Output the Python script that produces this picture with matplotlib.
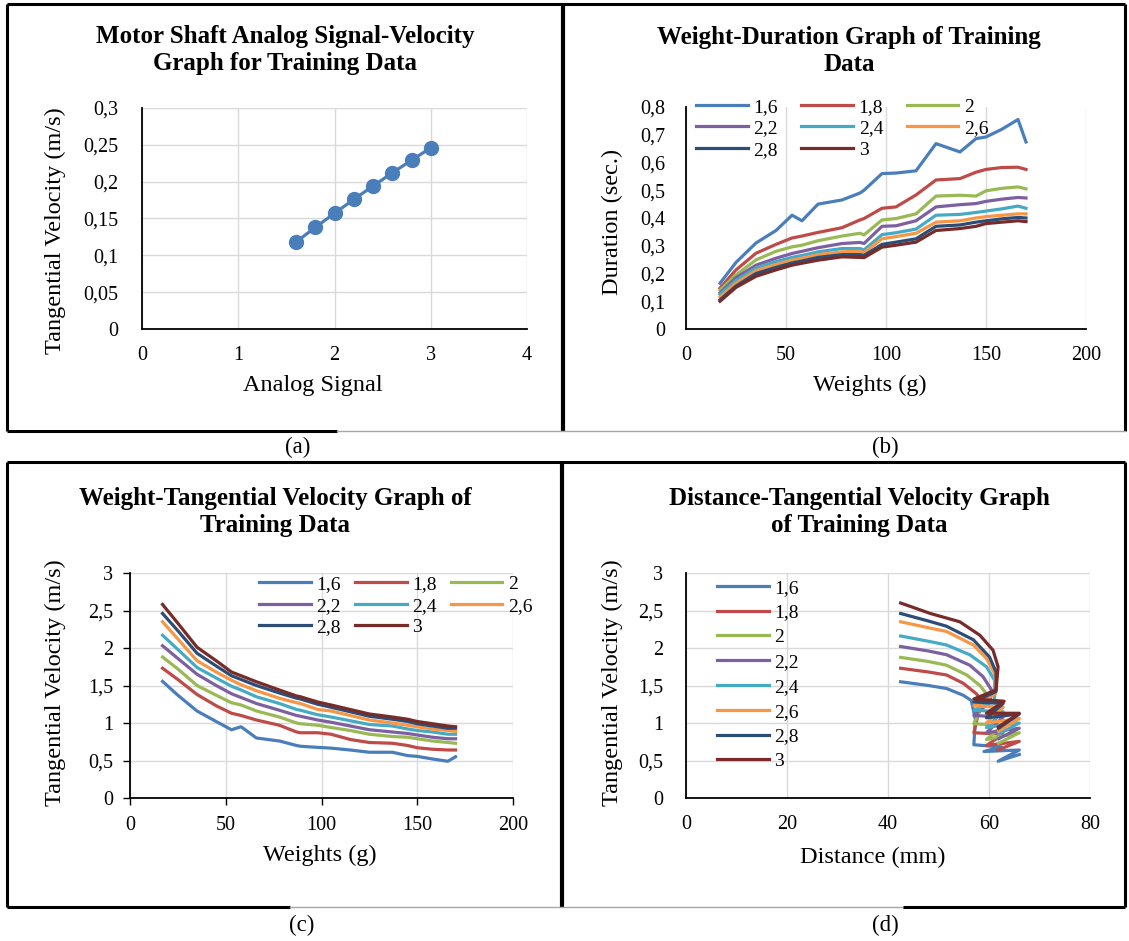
import matplotlib
matplotlib.use('Agg')
import matplotlib.pyplot as plt
from matplotlib.ticker import FuncFormatter, MultipleLocator

plt.rcParams['font.family'] = ['Liberation Serif', 'DejaVu Serif']

# ---- data -------------------------------------------------------------
signal = [1.6, 1.8, 2.0, 2.2, 2.4, 2.6, 2.8, 3.0]
signal_velocity = [0.118, 0.138, 0.157, 0.176, 0.194, 0.212, 0.229, 0.246]

series_labels = ['1,6', '1,8', '2', '2,2', '2,4', '2,6', '2,8', '3']
series_colors = ['#4A7EBB', '#BE4B48', '#98B954', '#7D60A0', '#46AAC5',
                 '#F79646', '#2C4D75', '#772C2A']

weights = [17, 25, 35, 45, 53, 58, 66, 78, 87, 89, 98, 105, 115, 125, 137,
           145, 150, 158, 166, 170]

dur_16 = [0.165, 0.24, 0.31, 0.355, 0.41, 0.39, 0.45, 0.465, 0.49, 0.50, 0.56,
          0.562, 0.57, 0.668, 0.638, 0.686, 0.692, 0.72, 0.755, 0.674]
dur_18 = [0.147, 0.213, 0.273, 0.305, 0.328, 0.335, 0.348, 0.365, 0.393, 0.398,
          0.435, 0.44, 0.483, 0.537, 0.542, 0.565, 0.575, 0.582, 0.583, 0.575]
dur_20 = [0.14, 0.195, 0.249, 0.28, 0.296, 0.302, 0.318, 0.335, 0.345, 0.339,
          0.393, 0.398, 0.415, 0.479, 0.482, 0.479, 0.498, 0.507, 0.512, 0.505]
dur_22 = [0.13, 0.185, 0.23, 0.255, 0.272, 0.28, 0.293, 0.308, 0.312, 0.308,
          0.37, 0.372, 0.39, 0.44, 0.448, 0.452, 0.46, 0.468, 0.474, 0.472]
dur_24 = [0.125, 0.175, 0.22, 0.243, 0.258, 0.265, 0.278, 0.29, 0.29, 0.285,
          0.34, 0.347, 0.36, 0.41, 0.413, 0.42, 0.425, 0.433, 0.443, 0.435]
dur_26 = [0.115, 0.165, 0.21, 0.232, 0.248, 0.255, 0.268, 0.278, 0.28, 0.275,
          0.325, 0.333, 0.345, 0.385, 0.39, 0.40, 0.405, 0.41, 0.415, 0.415]
dur_28 = [0.105, 0.155, 0.20, 0.222, 0.238, 0.245, 0.258, 0.268, 0.268, 0.265,
          0.305, 0.313, 0.325, 0.37, 0.375, 0.385, 0.39, 0.397, 0.402, 0.40]
dur_30 = [0.10, 0.15, 0.19, 0.213, 0.23, 0.237, 0.248, 0.26, 0.258, 0.257,
          0.295, 0.302, 0.313, 0.355, 0.362, 0.37, 0.38, 0.385, 0.39, 0.387]
durations = [dur_16, dur_18, dur_20, dur_22, dur_24, dur_26, dur_28, dur_30]

vel_16 = [1.555, 1.37, 1.16, 1.02, 0.91, 0.95, 0.80, 0.76, 0.70, 0.69, 0.675,
          0.665, 0.64, 0.61, 0.61, 0.565, 0.555, 0.52, 0.49, 0.55]
vel_18 = [1.73, 1.58, 1.38, 1.23, 1.13, 1.10, 1.04, 0.97, 0.88, 0.87, 0.87,
          0.85, 0.78, 0.74, 0.73, 0.70, 0.67, 0.65, 0.64, 0.64]
vel_20 = [1.88, 1.72, 1.50, 1.37, 1.27, 1.24, 1.16, 1.08, 1.00, 0.99, 0.97,
          0.94, 0.90, 0.85, 0.82, 0.81, 0.79, 0.76, 0.74, 0.73]
vel_22 = [2.03, 1.86, 1.65, 1.50, 1.39, 1.34, 1.26, 1.17, 1.10, 1.09, 1.04,
          1.01, 0.96, 0.91, 0.88, 0.86, 0.84, 0.81, 0.79, 0.79]
vel_24 = [2.17, 1.98, 1.74, 1.60, 1.49, 1.44, 1.35, 1.26, 1.18, 1.17, 1.11,
          1.08, 1.03, 0.98, 0.96, 0.92, 0.90, 0.88, 0.85, 0.85]
vel_26 = [2.35, 2.12, 1.83, 1.68, 1.57, 1.51, 1.43, 1.33, 1.27, 1.26, 1.18,
          1.16, 1.10, 1.04, 1.00, 0.97, 0.95, 0.92, 0.90, 0.89]
vel_28 = [2.46, 2.23, 1.93, 1.76, 1.63, 1.58, 1.50, 1.40, 1.33, 1.32, 1.25,
          1.21, 1.15, 1.09, 1.05, 1.02, 0.99, 0.96, 0.93, 0.93]
vel_30 = [2.58, 2.33, 2.01, 1.83, 1.68, 1.63, 1.55, 1.44, 1.36, 1.35, 1.28,
          1.24, 1.18, 1.12, 1.08, 1.05, 1.02, 0.99, 0.96, 0.95]
velocities = [vel_16, vel_18, vel_20, vel_22, vel_24, vel_26, vel_28, vel_30]

# distance-velocity curves (panel d)
dist_16 = [42.5, 48.0, 51.6, 54.9, 56.5, 57.3, 57.0, 62.5, 59.0, 66.0, 61.8, 66.0]
dvel_16 = [1.55, 1.50, 1.46, 1.37, 1.30, 1.05, 0.71, 0.68, 0.62, 0.64, 0.49, 0.58]
dist_18 = [42.5, 48.0, 51.6, 54.9, 57.5, 58.2, 57.8, 57.0, 62.8, 59.5, 66.0, 61.8]
dvel_18 = [1.73, 1.68, 1.64, 1.53, 1.39, 1.33, 1.10, 0.87, 0.85, 0.70, 0.755, 0.64]
dist_20 = [42.5, 48.0, 51.6, 55.6, 58.2, 59.5, 58.5, 57.0, 62.8, 59.5, 66.0, 61.9]
dvel_20 = [1.875, 1.82, 1.77, 1.64, 1.50, 1.39, 1.20, 0.99, 0.97, 0.78, 0.87, 0.73]
dist_22 = [42.5, 48.0, 51.6, 56.2, 58.8, 60.5, 60.2, 57.0, 62.8, 59.5, 66.0, 61.9]
dvel_22 = [2.02, 1.96, 1.91, 1.77, 1.62, 1.44, 1.28, 1.10, 1.08, 0.87, 0.93, 0.79]
dist_24 = [42.5, 48.0, 51.6, 56.2, 59.5, 61.1, 61.1, 57.0, 62.8, 59.5, 66.0, 61.9]
dvel_24 = [2.16, 2.09, 2.04, 1.91, 1.75, 1.57, 1.30, 1.17, 1.15, 0.94, 1.00, 0.85]
dist_26 = [42.5, 48.0, 51.6, 56.9, 59.5, 61.1, 61.3, 57.0, 62.8, 59.5, 66.0, 61.9]
dvel_26 = [2.35, 2.27, 2.22, 2.04, 1.86, 1.66, 1.39, 1.23, 1.21, 1.00, 1.06, 0.89]
dist_28 = [42.5, 48.0, 51.6, 56.9, 60.1, 61.4, 61.4, 57.0, 62.8, 59.5, 66.0, 61.9]
dvel_28 = [2.46, 2.36, 2.29, 2.11, 1.88, 1.68, 1.42, 1.28, 1.26, 1.07, 1.12, 0.93]
dist_30 = [42.5, 48.4, 54.2, 58.2, 60.8, 61.8, 61.4, 57.0, 63.0, 59.5, 66.0, 61.9]
dvel_30 = [2.60, 2.46, 2.35, 2.17, 1.97, 1.75, 1.44, 1.32, 1.29, 1.13, 1.13, 0.95]
distances = [dist_16, dist_18, dist_20, dist_22, dist_24, dist_26, dist_28, dist_30]
dist_vels = [dvel_16, dvel_18, dvel_20, dvel_22, dvel_24, dvel_26, dvel_28, dvel_30]

# ---- layout helpers ---------------------------------------------------
W, H = 1129, 941
fig = plt.figure(figsize=(W / 100, H / 100), dpi=100)

page = fig.add_axes([0, 0, 1, 1], zorder=-1)
page.set_xlim(0, W)
page.set_ylim(H, 0)
page.axis('off')


def px_axes(x0, y0, x1, y1):
    return fig.add_axes([x0 / W, 1 - y1 / H, (x1 - x0) / W, (y1 - y0) / H])


comma = FuncFormatter(lambda v, p: ('%g' % v).replace('.', ','))
GRID = '#D9D9D9'
LW = 2.3
TICK_FS = 14.5


def style(ax, xgrid=True, ygrid=True, ticks=False, ypad=16):
    for s in ['top', 'right']:
        ax.spines[s].set_visible(False)
    for s in ['left', 'bottom']:
        ax.spines[s].set_linewidth(1.3)
        ax.spines[s].set_color('black')
    if xgrid:
        ax.grid(True, axis='x', color=GRID, lw=1.0)
    if ygrid:
        ax.grid(True, axis='y', color=GRID, lw=1.0)
    ax.set_axisbelow(True)
    if ticks:
        ax.tick_params(axis='y', length=5, width=1, pad=7, labelsize=TICK_FS)
        ax.tick_params(axis='x', length=5, width=1, pad=8, labelsize=TICK_FS)
    else:
        ax.tick_params(axis='y', length=0, pad=ypad, labelsize=TICK_FS)
        ax.tick_params(axis='x', length=0, pad=12, labelsize=TICK_FS)
    ax.xaxis.set_major_formatter(comma)
    ax.yaxis.set_major_formatter(comma)


def legend(ax, x, y, ncol, colsp, labsp):
    handles, labels = ax.get_legend_handles_labels()
    if ncol == 3:
        # Excel fills legend rows first
        order = [0, 3, 6, 1, 4, 7, 2, 5]
        handles = [handles[i] for i in order]
        labels = [labels[i] for i in order]
    ax.legend(handles, labels, loc='upper left', bbox_to_anchor=(x, y),
              bbox_transform=page.transData, ncol=ncol, frameon=False,
              fontsize=14, handlelength=2.65, handletextpad=0.3,
              columnspacing=colsp, labelspacing=labsp, borderpad=0,
              borderaxespad=0)


# ---- panel (a) --------------------------------------------------------
ax = px_axes(142, 108, 527, 329)
ax.plot(signal, signal_velocity, color='#4A7EBB', lw=LW, marker='o', ms=10)
ax.set_xlim(0, 4)
ax.set_ylim(0, 0.3)
ax.xaxis.set_major_locator(MultipleLocator(1))
ax.yaxis.set_major_locator(MultipleLocator(0.05))
style(ax, ypad=17)

# ---- panel (b) --------------------------------------------------------
ax = px_axes(686, 107, 1086, 329)
for w_dur, lab, col in zip(durations, series_labels, series_colors):
    ax.plot(weights, w_dur, color=col, lw=LW, label=lab, solid_joinstyle='round')
ax.set_xlim(0, 200)
ax.set_ylim(0, 0.8)
ax.xaxis.set_major_locator(MultipleLocator(50))
ax.yaxis.set_major_locator(MultipleLocator(0.1))
style(ax, ygrid=False, ypad=15)
legend(ax, 696, 98, 3, 1.2, 0.2)

# ---- panel (c) --------------------------------------------------------
ax = px_axes(130, 573, 513, 798)
for vel, lab, col in zip(velocities, series_labels, series_colors):
    ax.plot(weights, vel, color=col, lw=LW, label=lab, solid_joinstyle='round')
ax.set_xlim(0, 200)
ax.set_ylim(0, 3)
ax.xaxis.set_major_locator(MultipleLocator(50))
ax.yaxis.set_major_locator(MultipleLocator(0.5))
style(ax, ticks=True)
legend(ax, 259, 575.5, 3, 0.72, 0.2)

# ---- panel (d) --------------------------------------------------------
ax = px_axes(686, 573, 1090, 798)
for dist, dv, lab, col in zip(distances, dist_vels, series_labels, series_colors):
    ax.plot(dist, dv, color=col, lw=LW, label=lab, solid_joinstyle='round')
ax.set_xlim(0, 80)
ax.set_ylim(0, 3)
ax.xaxis.set_major_locator(MultipleLocator(20))
ax.yaxis.set_major_locator(MultipleLocator(0.5))
style(ax, ypad=16.5)
legend(ax, 717, 579, 1, 1.0, 0.37)

# ---- titles, axis labels, captions -------------------------------------
tkw = dict(ha='center', va='center', fontsize=18, fontweight='bold', linespacing=1.27)
page.text(285, 50, 'Motor Shaft Analog Signal-Velocity\nGraph for Training Data', **tkw)
page.text(849, 51, 'Weight-Duration Graph of Training\nData', **tkw)
page.text(275, 512, 'Weight-Tangential Velocity Graph of\nTraining Data', **tkw)
page.text(859, 512, 'Distance-Tangential Velocity Graph\nof Training Data', **tkw)

lkw = dict(ha='center', va='center', fontsize=17.5)
page.text(55, 231, 'Tangential Velocity (m/s)', rotation=90, **lkw)
page.text(313, 385, 'Analog Signal', **lkw)
page.text(612, 222, 'Duration (sec.)', rotation=90, **lkw)
page.text(870, 385, 'Weights (g)', **lkw)
page.text(55, 683, 'Tangential Velocity (m/s)', rotation=90, **lkw)
page.text(320, 855, 'Weights (g)', **lkw)
page.text(612, 683, 'Tangential Velocity (m/s)', rotation=90, **lkw)
page.text(873, 857, 'Distance (mm)', **lkw)

ckw = dict(ha='center', va='center', fontsize=16.5)
page.text(298, 447, '(a)', **ckw)
page.text(885, 447, '(b)', **ckw)
page.text(302, 925, '(c)', **ckw)
page.text(885, 925, '(d)', **ckw)

# ---- frame lines ------------------------------------------------------
K = dict(color='black', lw=2.2, solid_capstyle='butt')
G = dict(color='#A6A6A6', lw=1.0)
page.plot([7, 1125], [4, 4], **K)
page.plot([7, 7], [4, 431], **K)
page.plot([1125, 1125], [4, 431], **K)
page.plot([563, 563], [4, 431], color='black', lw=3, solid_capstyle='butt')
page.plot([7, 337], [431, 431], **K)
page.plot([337, 1125], [431, 431], **G)
page.plot([7, 1125], [462, 462], **K)
page.plot([7, 7], [462, 907], **K)
page.plot([1125, 1125], [462, 907], **K)
page.plot([562, 562], [462, 907], color='black', lw=3, solid_capstyle='butt')
page.plot([7, 290], [907, 907], **K)
page.plot([290, 903], [907, 907], **G)
page.plot([903, 1125], [907, 907], **K)

fig.savefig('out.png', dpi=100)
